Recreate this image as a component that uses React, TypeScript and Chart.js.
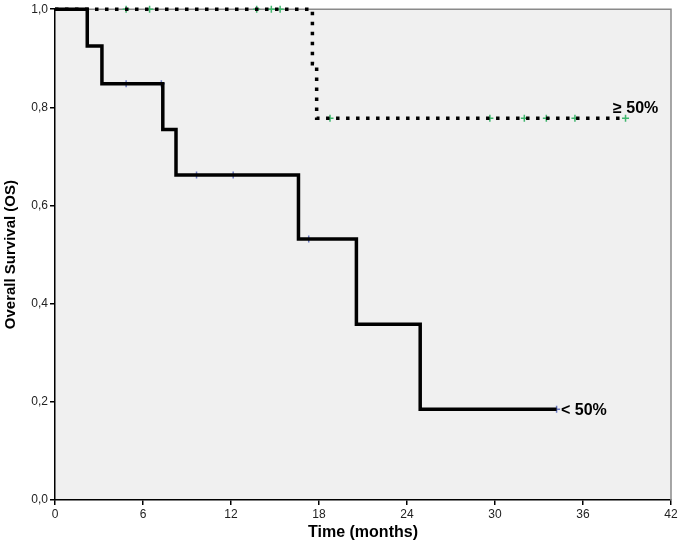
import { useEffect, useRef } from 'react';
import { Chart, registerables } from 'chart.js';

Chart.register(...registerables);

// Kaplan-Meier curves (months, survival)
const lowTimes = [0, 2.2, 3.2, 7.35, 8.25, 16.6, 20.55, 24.9, 34.2];
const lowSurvival = [1, 0.925, 0.848, 0.755, 0.662, 0.532, 0.358, 0.185, 0.185];
const lowCensorTimes = [4.85, 7.25, 9.65, 12.15, 17.3, 34.2];
const lowCensorSurvival = [0.848, 0.848, 0.662, 0.662, 0.532, 0.185];

const highTimes = [0, 17.55, 17.84, 38.9];
const highSurvival = [1, 0.889, 0.778, 0.778];
const highCensorTimes = [4.85, 6.45, 13.75, 14.75, 15.35, 18.75, 29.65, 32.0, 33.5, 35.45, 38.9];
const highCensorSurvival = [1, 1, 1, 1, 1, 0.778, 0.778, 0.778, 0.778, 0.778, 0.778];

const xTicks = [0, 6, 12, 18, 24, 30, 36, 42];
const yTickLabels = ['0,0', '0,2', '0,4', '0,6', '0,8', '1,0'];

const groupLabels = [
  { text: '≥ 50%', x: 38.05, y: 0.778, dy: -10 },
  { text: '< 50%', x: 34.5, y: 0.185, dy: 1 },
];

const FONT = "'Liberation Sans', Arial, sans-serif";

const toPoints = (xs: number[], ys: number[]) => xs.map((x, i) => ({ x, y: ys[i] }));

const plotFrame = {
  id: 'plotFrame',
  beforeDraw(chart: Chart) {
    const { ctx, chartArea: a } = chart;
    ctx.save();
    ctx.fillStyle = '#f0f0f0';
    ctx.fillRect(a.left, a.top, a.right - a.left, a.bottom - a.top);
    ctx.restore();
  },
  beforeDatasetsDraw(chart: Chart) {
    const { ctx, chartArea: a } = chart;
    ctx.save();
    ctx.strokeStyle = '#8a8a8a';
    ctx.lineWidth = 1.5;
    ctx.beginPath();
    ctx.moveTo(a.left, a.top);
    ctx.lineTo(a.right, a.top);
    ctx.lineTo(a.right, a.bottom);
    ctx.stroke();
    ctx.restore();
  },
  afterDraw(chart: Chart) {
    const { ctx } = chart;
    const xs = chart.scales.x;
    const ys = chart.scales.y;
    ctx.save();
    ctx.fillStyle = '#000';
    ctx.font = `bold 16px ${FONT}`;
    ctx.textBaseline = 'middle';
    ctx.textAlign = 'left';
    groupLabels.forEach(l => {
      ctx.fillText(l.text, xs.getPixelForValue(l.x), ys.getPixelForValue(l.y) + l.dy);
    });
    ctx.restore();
  },
};

const SurvivalChart = () => {
  const chartRef = useRef<HTMLCanvasElement | null>(null);
  const chartInstance = useRef<Chart | null>(null);

  useEffect(() => {
    if (!chartRef.current) return;
    const ctx = chartRef.current.getContext('2d');
    if (!ctx) return;

    if (chartInstance.current) chartInstance.current.destroy();

    chartInstance.current = new Chart(ctx, {
      type: 'scatter',
      data: {
        datasets: [
          {
            label: '≥ 50%',
            data: toPoints(highTimes, highSurvival),
            showLine: true,
            stepped: 'before',
            borderColor: '#000',
            borderWidth: 3.5,
            borderDash: [3.5, 6.5],
            pointRadius: 0,
            clip: false,
          },
          {
            label: '< 50%',
            data: toPoints(lowTimes, lowSurvival),
            showLine: true,
            stepped: 'before',
            borderColor: '#000',
            borderWidth: 3.5,
            pointRadius: 0,
            clip: false,
          },
          {
            label: '≥ 50% censored',
            data: toPoints(highCensorTimes, highCensorSurvival),
            pointStyle: 'cross',
            pointRadius: 3.5,
            borderColor: '#3fb56c',
            borderWidth: 1.5,
            clip: false,
          },
          {
            label: '< 50% censored',
            data: toPoints(lowCensorTimes, lowCensorSurvival),
            pointStyle: 'cross',
            pointRadius: 3.5,
            borderColor: '#6a78c2',
            borderWidth: 1.5,
            clip: false,
          },
        ],
      },
      options: {
        responsive: false,
        animation: false,
        layout: { padding: { top: 8, right: 9, left: 0, bottom: 0 } },
        plugins: {
          legend: { display: false },
          tooltip: { enabled: false },
        },
        scales: {
          x: {
            type: 'linear',
            min: 0,
            max: 42,
            afterBuildTicks: scale => {
              scale.ticks = xTicks.map(v => ({ value: v }));
            },
            afterFit: scale => {
              scale.height = 46;
            },
            grid: { display: true, drawOnChartArea: false, drawTicks: true, tickLength: 5, color: '#000', lineWidth: 1.5 },
            border: { color: '#000', width: 1.5 },
            ticks: { color: '#222', font: { family: FONT, size: 12 }, padding: 2, maxRotation: 0 },
            title: {
              display: true,
              text: 'Time (months)',
              color: '#000',
              font: { family: FONT, size: 16, weight: 'bold' },
              padding: { top: 4, bottom: 4 },
            },
          },
          y: {
            min: 0,
            max: 1,
            ticks: {
              stepSize: 0.2,
              color: '#222',
              font: { family: FONT, size: 12 },
              padding: 2,
              callback: (_v, i) => yTickLabels[i],
            },
            afterFit: scale => {
              scale.width = 55;
            },
            grid: { display: true, drawOnChartArea: false, drawTicks: true, tickLength: 5, color: '#000', lineWidth: 1.5 },
            border: { color: '#000', width: 1.5 },
            title: {
              display: true,
              text: 'Overall Survival (OS)',
              color: '#000',
              font: { family: FONT, size: 15, weight: 'bold' },
              padding: { top: 2, bottom: 2 },
            },
          },
        },
      },
      plugins: [plotFrame],
    });

    return () => {
      if (chartInstance.current) {
        chartInstance.current.destroy();
        chartInstance.current = null;
      }
    };
  }, []);

  return (
    <div style={{ position: 'absolute', left: 0, top: 0, width: 680, height: 546, background: '#fff' }}>
      <canvas ref={chartRef} width={680} height={546} style={{ display: 'block' }}></canvas>
    </div>
  );
};

export default function App() {
  return <SurvivalChart />;
}
